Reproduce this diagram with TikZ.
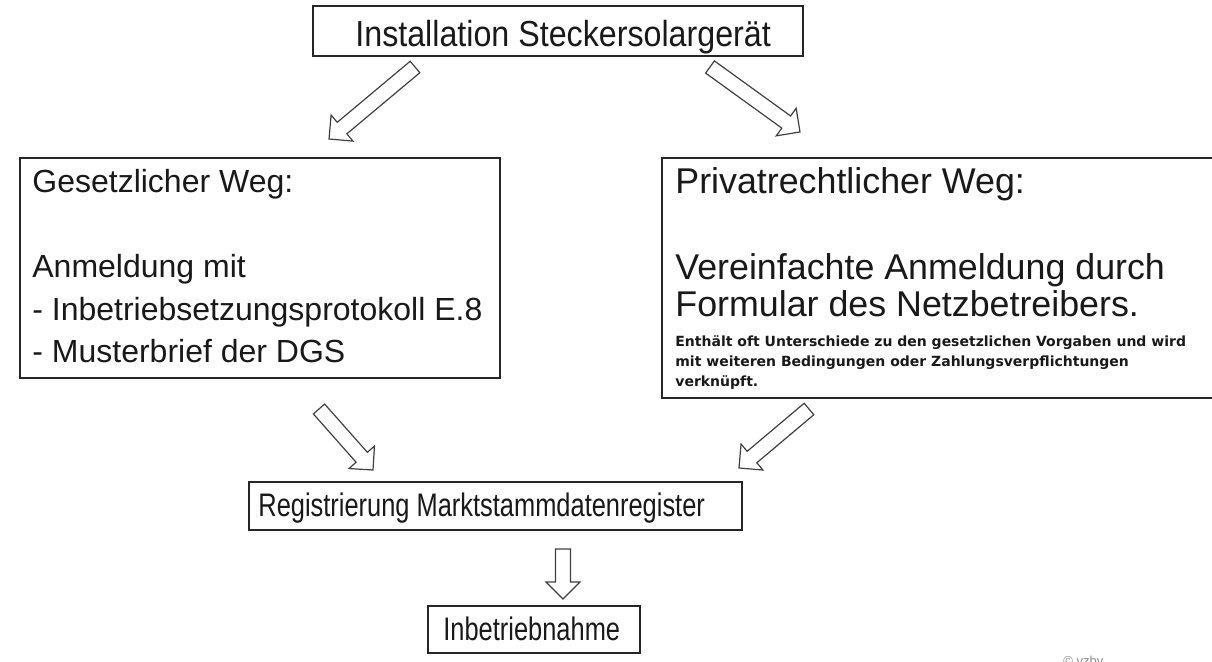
\documentclass[tikz,border=0pt]{standalone}
\usepackage{fontspec}
\setmainfont{Liberation Sans}
\newfontfamily\condsf[FakeStretch=0.78]{Liberation Sans}
\newfontfamily\midsf[FakeStretch=0.89]{Liberation Sans}
\newfontfamily\notesf{DejaVu Sans Bold}
\usetikzlibrary{calc}

\newcommand{\hollowarr}[2]{%
  \coordinate (hb) at ($(#2)!8.5pt!(#1)$);
  \draw[blockarr] ($(#1)!3.75pt!90:(#2)$) -- ($(hb)!3.75pt!-90:(#1)$) -- ($(hb)!8.5pt!-90:(#1)$) -- (#2)
    -- ($(hb)!8.5pt!90:(#1)$) -- ($(hb)!3.75pt!90:(#1)$) -- ($(#1)!3.75pt!-90:(#2)$) -- cycle;
}

\begin{document}
\begin{tikzpicture}[x=0.5pt,y=-0.5pt,
  box/.style={draw=black!85,line width=0.8pt,fill=white,inner sep=0},
  txt/.style={anchor=base west,inner sep=0,text=black!90},
  blockarr/.style={draw=black!75,line width=0.6pt,fill=white,line join=miter}]
\clip (0,0) rectangle (1212,662);
\useasboundingbox (0,0) rectangle (1212,662);

\node[box,minimum width=245pt,minimum height=25pt] (inst) at (558,31) {};
\node[box,minimum width=240pt,minimum height=110pt] (legal) at (260,268) {};
\node[box,minimum width=289pt,minimum height=120pt] (priv) at (951,278) {};
\node[box,minimum width=246.5pt,minimum height=24pt] (reg) at (495.5,506) {};
\node[box,minimum width=106pt,minimum height=23.5pt] (op) at (534,629.5) {};

\node[txt,font=\midsf\fontsize{18.1}{20}\selectfont] (instT) at (355,47) {Installation Steckersolargerät};
\node[txt,align=left,font=\fontsize{16}{21.25}\selectfont] (legalT) at (32,363)
  {Gesetzlicher Weg:\\[21.25pt]Anmeldung mit\\- Inbetriebsetzungsprotokoll E.8\\- Musterbrief der DGS};
\node[txt,align=left,font=\fontsize{17.9}{18.5}\selectfont] (privT) at (675,317)
  {Privatrechtlicher Weg:\\[24.5pt]Vereinfachte Anmeldung durch\\Formular des Netzbetreibers.};
\node[txt,align=left,font=\notesf\fontsize{7}{10}\selectfont] (privN) at (675,387)
  {Enthält oft Unterschiede zu den gesetzlichen Vorgaben und wird\\mit weiteren Bedingungen oder Zahlungsverpflichtungen\\verknüpft.};
\node[txt,font=\condsf\fontsize{16.3}{18}\selectfont] (regT) at (258,517) {Registrierung Marktstammdatenregister};
\node[txt,font=\condsf\fontsize{16.3}{18}\selectfont] (opT) at (443,641) {Inbetriebnahme};
\node[txt,font=\fontsize{6.5}{7}\selectfont,text=black!45] (copy) at (1063,666) {© vzbv};

\coordinate (a1t) at (415,67);  \coordinate (a1h) at (329,139);
\coordinate (a2t) at (710,67);  \coordinate (a2h) at (800,132);
\coordinate (a3t) at (319,409); \coordinate (a3h) at (373,470);
\coordinate (a4t) at (809,409); \coordinate (a4h) at (739,468);
\coordinate (a5t) at (563,549); \coordinate (a5h) at (563,599);
\hollowarr{a1t}{a1h}
\hollowarr{a2t}{a2h}
\hollowarr{a3t}{a3h}
\hollowarr{a4t}{a4h}
\hollowarr{a5t}{a5h}
\end{tikzpicture}
\end{document}
